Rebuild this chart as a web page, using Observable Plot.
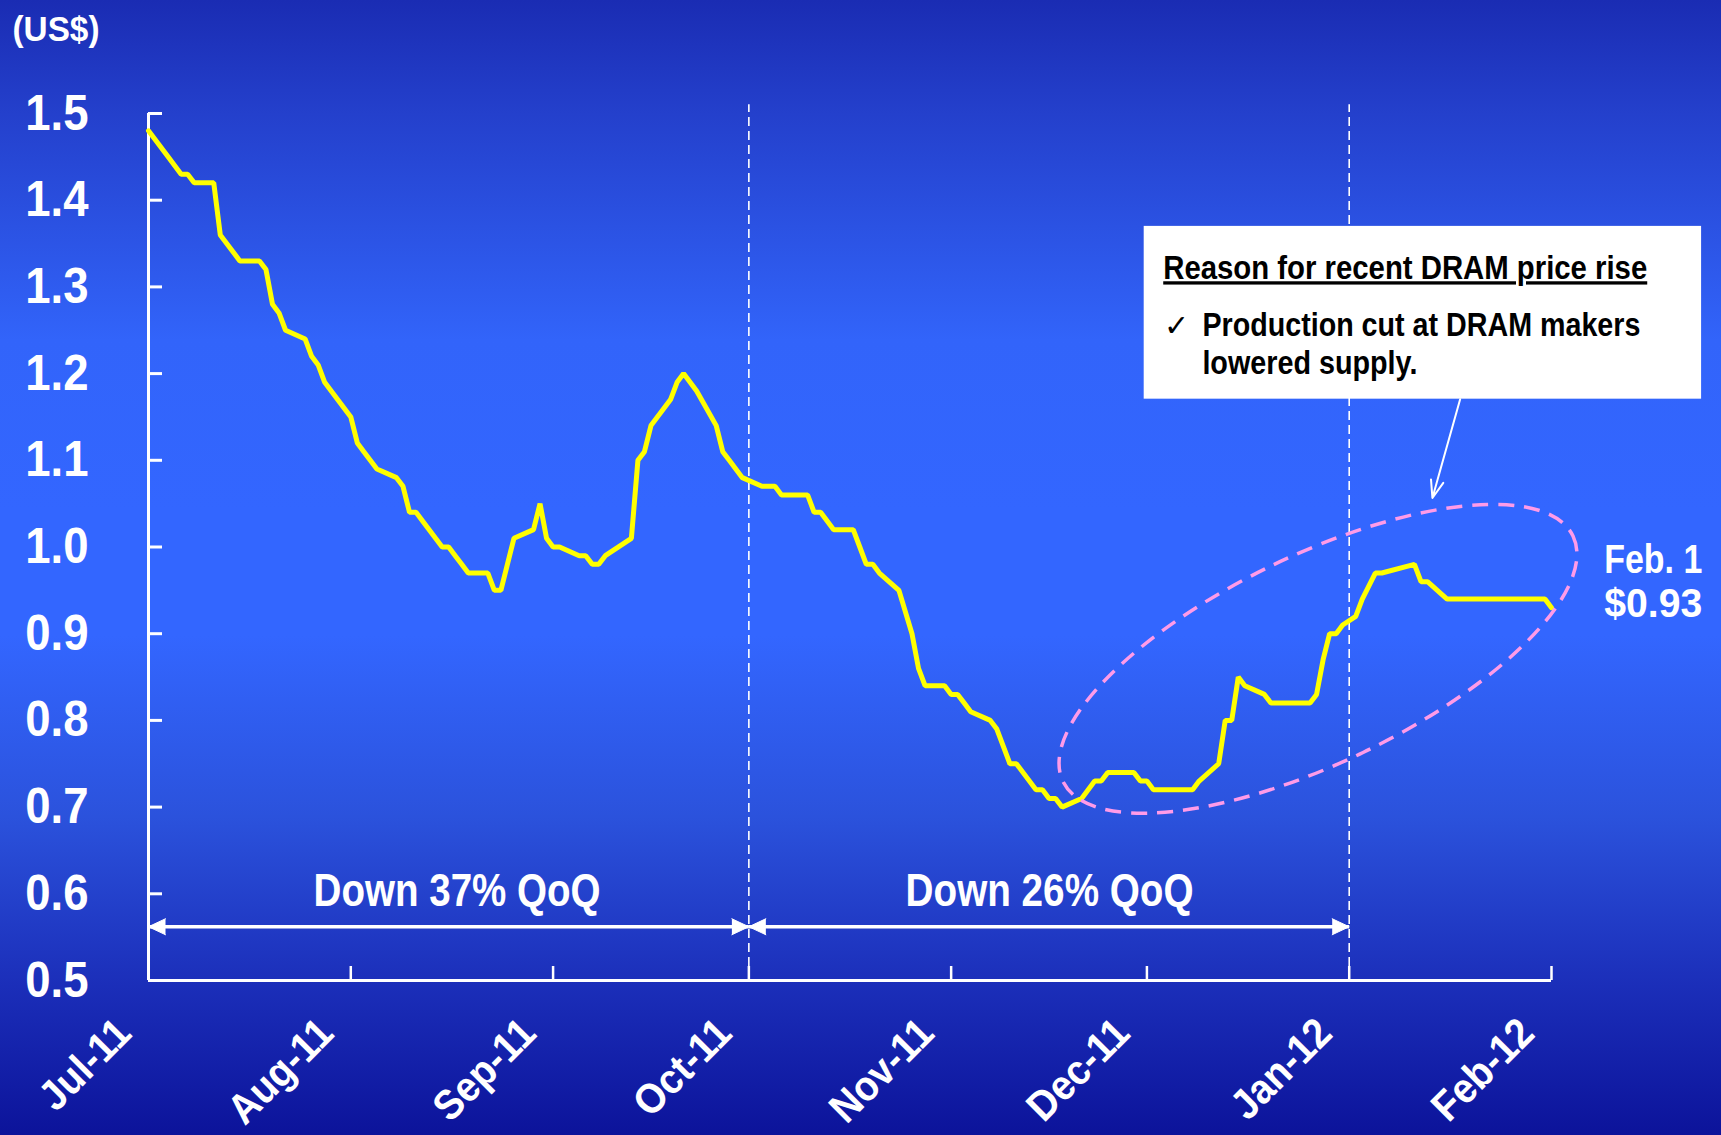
<!DOCTYPE html>
<html>
<head>
<meta charset="utf-8">
<script src="https://cdn.jsdelivr.net/npm/d3@7"></script>
<script src="https://cdn.jsdelivr.net/npm/@observablehq/plot@0.6"></script>
<style>
html, body { margin: 0; padding: 0; overflow: hidden; }
body {
  width: 1721px; height: 1135px;
  background: linear-gradient(to bottom, #1a2cb3 0%, #2440cc 10%, #3264fa 30%, #3366ff 45%, #3366ff 56%, #2b52dc 72%, #1c30bb 86%, #0c139a 100%);
}
#chart svg { display: block; }
</style>
</head>
<body>
<div id="chart"></div>
<script>
// ---------------- data ----------------
const priceDates = [
  "2011-07-01","2011-07-04","2011-07-05","2011-07-06","2011-07-07","2011-07-08","2011-07-11","2011-07-12","2011-07-14","2011-07-15",
  "2011-07-18","2011-07-19","2011-07-20","2011-07-21","2011-07-22","2011-07-25","2011-07-26","2011-07-27","2011-07-28","2011-07-29",
  "2011-08-01","2011-08-02","2011-08-03","2011-08-05","2011-08-08","2011-08-09","2011-08-10","2011-08-11","2011-08-12","2011-08-15",
  "2011-08-16","2011-08-17","2011-08-18","2011-08-19","2011-08-22","2011-08-23","2011-08-24","2011-08-25","2011-08-26","2011-08-29",
  "2011-08-30","2011-08-31","2011-09-01","2011-09-02","2011-09-05","2011-09-06","2011-09-07","2011-09-08","2011-09-09","2011-09-13",
  "2011-09-14","2011-09-15","2011-09-16","2011-09-19","2011-09-20","2011-09-21","2011-09-23","2011-09-26","2011-09-27","2011-09-28",
  "2011-09-29","2011-09-30","2011-10-03","2011-10-05","2011-10-06","2011-10-10","2011-10-11","2011-10-12","2011-10-13","2011-10-14",
  "2011-10-17","2011-10-18","2011-10-19","2011-10-20","2011-10-21","2011-10-24","2011-10-26","2011-10-27","2011-10-28","2011-10-31",
  "2011-11-01","2011-11-02","2011-11-03","2011-11-04","2011-11-07","2011-11-08","2011-11-09","2011-11-10","2011-11-11","2011-11-14",
  "2011-11-15","2011-11-16","2011-11-17","2011-11-18","2011-11-21","2011-11-22","2011-11-23","2011-11-24","2011-11-25","2011-11-29",
  "2011-11-30","2011-12-01","2011-12-02","2011-12-08","2011-12-09","2011-12-12","2011-12-13","2011-12-14","2011-12-15","2011-12-16",
  "2011-12-19","2011-12-20","2011-12-26","2011-12-27","2011-12-28","2011-12-29","2011-12-30","2011-12-31","2012-01-02","2012-01-03",
  "2012-01-05","2012-01-06","2012-01-11","2012-01-12","2012-01-13","2012-01-16","2012-01-31","2012-02-01"
];
const priceValues = [
  1.48,1.45,1.44,1.43,1.43,1.42,1.42,1.36,1.34,1.33,
  1.33,1.32,1.28,1.27,1.25,1.24,1.22,1.21,1.19,1.18,
  1.15,1.12,1.11,1.09,1.08,1.07,1.04,1.04,1.03,1.00,
  1.00,0.99,0.98,0.97,0.97,0.95,0.95,0.98,1.01,1.02,
  1.05,1.01,1.00,1.00,0.99,0.99,0.98,0.98,0.99,1.01,
  1.10,1.11,1.14,1.17,1.19,1.20,1.18,1.14,1.11,1.10,
  1.09,1.08,1.07,1.07,1.06,1.06,1.04,1.04,1.03,1.02,
  1.02,1.00,0.98,0.98,0.97,0.95,0.90,0.86,0.84,0.84,
  0.83,0.83,0.82,0.81,0.80,0.79,0.77,0.75,0.75,0.72,
  0.72,0.71,0.71,0.70,0.71,0.72,0.73,0.73,0.74,0.74,
  0.73,0.73,0.72,0.72,0.73,0.75,0.80,0.80,0.85,0.84,
  0.83,0.82,0.82,0.83,0.87,0.90,0.90,0.91,0.92,0.94,
  0.97,0.97,0.98,0.96,0.96,0.94,0.94,0.93
];

const xTickDates = ["2011-07-01","2011-08-01","2011-09-01","2011-10-01","2011-11-01","2011-12-01","2012-01-01","2012-02-01"];
const xTickLabels = ["Jul-11","Aug-11","Sep-11","Oct-11","Nov-11","Dec-11","Jan-12","Feb-12"];
const yTicks = [0.5,0.6,0.7,0.8,0.9,1.0,1.1,1.2,1.3,1.4,1.5];
const yTickLabels = ["0.5","0.6","0.7","0.8","0.9","1.0","1.1","1.2","1.3","1.4","1.5"];
const unitLabel = "(US$)";

// quarter boundaries and QoQ annotations
const quarterBounds = ["2011-10-01","2012-01-01"];
const periodStarts = ["2011-07-01","2011-10-01"];
const periodEnds = ["2011-10-01","2012-01-01"];
const periodLabels = ["Down 37% QoQ","Down 26% QoQ"];
const periodLabelDates = ["2011-08-17T07:00Z","2011-11-16T02:00Z"];
const periodLabelValue = 0.5856;
const periodArrowValue = 0.562;

// callout box
const boxCorners = {x1: "2011-11-30T14:00Z", x2: "2012-02-24T00:00Z", y1: 1.1705, y2: 1.3698};
const boxLines = ["Reason for recent DRAM price rise","Production cut at DRAM makers","lowered supply."];
const boxLineDates = ["2011-12-03T12:00Z","2011-12-09T12:00Z","2011-12-09T12:00Z"];
const boxLineValues = [1.3088,1.2431,1.1993];
const checkMark = "✓";
const checkDate = "2011-12-03T16:00Z";
const checkValue = 1.2431;
const calloutArrow = {x1: "2012-01-18T00:00Z", y1: 1.1705, x2: "2012-01-13T18:00Z", y2: 1.0565};
const ellipseCenter = ["2011-12-27T07:00Z", 0.8705];

// end label
const endLabels = ["Feb. 1","$0.93"];
const endLabelDate = "2012-02-09T02:00Z";
const endLabelValues = [0.970,0.9194];

// ---------------- build ----------------
const dt = (s) => new Date(s.length === 10 ? s + "T00:00Z" : s);
const series = priceDates.map((d, i) => ({date: dt(d), price: priceValues[i]}));
const xTicks = xTickDates.map(dt);
const periods = periodStarts.map((s, i) => ({start: dt(s), end: dt(periodEnds[i]), label: periodLabels[i], mid: dt(periodLabelDates[i])}));
const heads = [];
periods.forEach(p => { heads.push({date: p.start, dir: -90}); heads.push({date: p.end, dir: 90}); });
const boxRows = [{x1: dt(boxCorners.x1), x2: dt(boxCorners.x2), y1: boxCorners.y1, y2: boxCorners.y2}];
const boxLineRows = boxLines.map((t, i) => ({label: t, date: dt(boxLineDates[i]), value: boxLineValues[i]}));
const checkRows = [{label: checkMark, date: dt(checkDate), value: checkValue}];
const endRows = endLabels.map((t, i) => ({label: t, date: dt(endLabelDate), value: endLabelValues[i]}));
const arrowRows = [{x1: dt(calloutArrow.x1), y1: calloutArrow.y1, x2: dt(calloutArrow.x2), y2: calloutArrow.y2}];
const yLo = yTicks[0], yHi = yTicks[yTicks.length - 1];

const FONT = "'Liberation Sans', Arial, Helvetica, sans-serif";

function focusEllipse(index, scales) {
  const fx = typeof scales.x === "function" ? scales.x : scales.scales.x.apply;
  const fy = typeof scales.y === "function" ? scales.y : scales.scales.y.apply;
  const cx = fx(dt(ellipseCenter[0])), cy = fy(ellipseCenter[1]);
  const g = d3.create("svg:g");
  g.append("ellipse")
    .attr("cx", cx).attr("cy", cy).attr("rx", 283).attr("ry", 104)
    .attr("transform", `rotate(-25.7 ${cx} ${cy})`)
    .attr("fill", "none").attr("stroke", "#ff9be8").attr("stroke-width", 3.5)
    .attr("stroke-dasharray", "16,10");
  return g.node();
}

const svg = Plot.plot({
  width: 1721, height: 1135,
  marginLeft: 148, marginRight: 170, marginTop: 113, marginBottom: 155,
  style: {background: "transparent", color: "white", fontFamily: FONT, overflow: "visible"},
  x: {type: "utc", domain: [xTicks[0], xTicks[xTicks.length - 1]], axis: null},
  y: {domain: [yLo, yHi], axis: null},
  marks: [
    // dashed quarter boundaries
    Plot.ruleX(quarterBounds.map(dt), {y1: yLo, y2: 1.51, stroke: "white", strokeWidth: 1.6, strokeDasharray: "9,5"}),
    // axis lines
    Plot.ruleX([xTicks[0]], {y1: yLo, y2: yHi, stroke: "white", strokeWidth: 3}),
    Plot.ruleY([yLo], {x1: xTicks[0], x2: xTicks[xTicks.length - 1], stroke: "white", strokeWidth: 3}),
    // inward ticks
    Plot.ruleY(yTicks, {x1: xTicks[0], x2: xTicks[0], insetRight: -14, stroke: "white", strokeWidth: 3}),
    Plot.ruleX(xTicks, {y1: yLo, y2: yLo, insetBottom: 14, stroke: "white", strokeWidth: 2.5}),
    // tick labels
    Plot.axisY({ticks: yTicks, tickSize: 0, tickPadding: 60, label: null, fontSize: 50, fontWeight: "bold",
      tickFormat: (d) => yTickLabels[yTicks.findIndex(t => Math.abs(t - d) < 1e-9)]}),
    Plot.axisX({ticks: xTicks, tickSize: 0, tickPadding: 0, label: null, tickRotate: -45,
      textAnchor: "end", lineAnchor: "bottom", dx: -15, dy: 55, fontSize: 42, fontWeight: "bold",
      tickFormat: (d) => xTickLabels[xTicks.findIndex(t => +t === +d)]}),
    // price line
    Plot.line(series, {x: "date", y: "price", stroke: "#ffff00", strokeWidth: 5, strokeLinejoin: "miter"}),
    // focus ellipse
    focusEllipse,
    // QoQ double arrows
    Plot.link(periods, {x1: "start", x2: "end", y1: periodArrowValue, y2: periodArrowValue, stroke: "white", strokeWidth: 3.5}),
    Plot.vector(heads, {x: "date", y: periodArrowValue, rotate: "dir", length: 17, shape: "spike", anchor: "end", r: 8, fill: "white", stroke: "white", strokeWidth: 1}),
    Plot.text(periods, {x: "mid", y: periodLabelValue, text: "label", fill: "white", fontSize: 46, fontWeight: "bold", textAnchor: "middle", lineAnchor: "bottom"}),
    // callout box
    Plot.rect(boxRows, {x1: "x1", x2: "x2", y1: "y1", y2: "y2", fill: "white"}),
    Plot.text(boxLineRows, {x: "date", y: "value", text: "label", fill: "black", fontSize: 33, fontWeight: "bold", textAnchor: "start", lineAnchor: "bottom"}),
    Plot.text(checkRows, {x: "date", y: "value", text: "label", fill: "black", fontSize: 30, fontWeight: "normal", textAnchor: "start", lineAnchor: "bottom"}),
    Plot.arrow(arrowRows, {x1: "x1", y1: "y1", x2: "x2", y2: "y2", stroke: "white", strokeWidth: 2, headLength: 14, headAngle: 40}),
    // end label
    Plot.text(endRows, {x: "date", y: "value", text: "label", fill: "white", fontSize: 40, fontWeight: "bold", textAnchor: "start", lineAnchor: "bottom"}),
    // unit label
    Plot.text([unitLabel], {frameAnchor: "top-left", dx: -136, dy: -73, fill: "white", fontSize: 35, fontWeight: "bold", textAnchor: "start", lineAnchor: "bottom"})
  ]
});

document.getElementById("chart").appendChild(svg);

// fit condensed text widths (the original uses a narrow gothic face)
const fitWidths = {
  "Down 37% QoQ": 287, "Down 26% QoQ": 288,
  "Reason for recent DRAM price rise": 484,
  "Production cut at DRAM makers": 438,
  "lowered supply.": 215,
  "Feb. 1": 98, "$0.93": 98, "(US$)": 87
};
d3.select(svg).selectAll("text").each(function () {
  const w = fitWidths[this.textContent];
  if (w) { this.setAttribute("textLength", w); this.setAttribute("lengthAdjust", "spacingAndGlyphs"); }
  if (this.textContent === "Reason for recent DRAM price rise") this.style.textDecoration = "underline";
});
function condense(sel, k) {
  d3.select(svg).selectAll(sel).each(function () {
    const w = this.getComputedTextLength();
    this.setAttribute("textLength", w * k); this.setAttribute("lengthAdjust", "spacingAndGlyphs");
  });
}
condense("[aria-label='y-axis tick label'] text", 0.91);
condense("[aria-label='x-axis tick label'] text", 0.92);
</script>
</body>
</html>
